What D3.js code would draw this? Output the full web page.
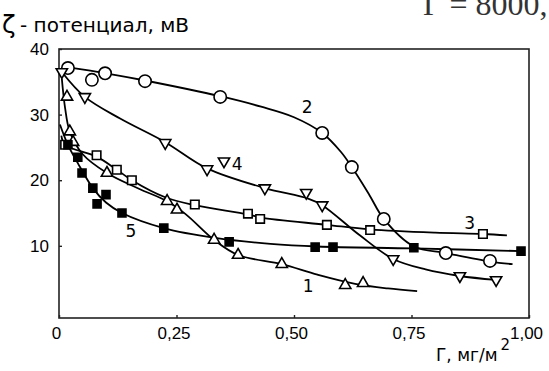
<!DOCTYPE html>
<html>
<head>
<meta charset="utf-8">
<script src="https://cdn.jsdelivr.net/npm/d3@7"></script>
<style>
	body { margin: 0; background: #fff; }
	svg { display: block; font-family: "DejaVu Sans", sans-serif; }
</style>
</head>
<body>
<div id="chart"></div>
<script>
// values: [Г, мг/м², ζ, мВ]
const series1Points = [[0.017, 32.7], [0.023, 27.4], [0.03, 25.8], [0.102, 21.1], [0.23, 16.8], [0.251, 15.5], [0.33, 10.9], [0.381, 8.6], [0.474, 7.2], [0.609, 4.0], [0.647, 4.3]]
const series1Curve = [[0.006, 35.5], [0.013, 31], [0.023, 27.4], [0.05, 24], [0.102, 21.1], [0.17, 18.7], [0.23, 16.8], [0.27, 14.8], [0.33, 10.9], [0.381, 8.6], [0.474, 7.2], [0.55, 5.6], [0.63, 4.2], [0.7, 3.5], [0.762, 3.1]]

const series2Points = [[0.019, 37.1], [0.07, 35.3], [0.098, 36.3], [0.183, 35.1], [0.343, 32.7], [0.56, 27.2], [0.623, 22.0], [0.691, 14.1], [0.823, 8.9], [0.917, 7.7]]
const series2Curve = [[0.02, 37.2], [0.1, 36.3], [0.183, 35.2], [0.343, 32.8], [0.43, 31.2], [0.5, 29.6], [0.56, 27.2], [0.6, 24.3], [0.623, 22.0], [0.66, 17.8], [0.691, 14.1], [0.755, 9.9], [0.823, 8.9], [0.917, 7.6], [0.965, 7.2]]

const series3Points = [[0.013, 25.4], [0.08, 23.8], [0.123, 21.6], [0.155, 20.0], [0.289, 16.3], [0.402, 14.9], [0.428, 14.1], [0.57, 13.2], [0.662, 12.4], [0.902, 11.8]]
const series3Curve = [[0.005, 26.8], [0.013, 25.4], [0.08, 23.6], [0.123, 21.6], [0.155, 20.0], [0.226, 17.4], [0.289, 16.2], [0.402, 14.8], [0.43, 14.3], [0.57, 13.2], [0.662, 12.5], [0.8, 12.0], [0.902, 11.8], [0.953, 11.6]]

const series4Points = [[0.006, 36.5], [0.055, 32.7], [0.226, 25.7], [0.315, 21.7], [0.351, 22.9], [0.438, 18.8], [0.526, 18.1], [0.56, 16.2], [0.711, 8.0], [0.853, 5.4], [0.93, 4.8]]
const series4Curve = [[0.006, 36.5], [0.055, 32.7], [0.13, 29.4], [0.226, 25.8], [0.315, 21.8], [0.438, 18.8], [0.53, 17.2], [0.56, 16.2], [0.64, 11.6], [0.711, 8.0], [0.78, 6.4], [0.853, 5.4], [0.93, 4.8]]

const series5Points = [[0.019, 25.4], [0.04, 23.5], [0.049, 21.1], [0.072, 18.8], [0.081, 16.4], [0.1, 17.8], [0.134, 15.0], [0.223, 12.7], [0.362, 10.6], [0.545, 9.8], [0.583, 9.8], [0.755, 9.7], [0.983, 9.2]]
const series5Curve = [[0.002, 28.5], [0.019, 25.4], [0.04, 22.6], [0.072, 18.8], [0.1, 16.6], [0.134, 15.0], [0.223, 12.7], [0.332, 11.2], [0.45, 10.3], [0.55, 9.9], [0.755, 9.6], [0.983, 9.2]]

const curveLabels = ['1', '2', '3', '4', '5']
const curveLabelAt = [[0.53, 3.9], [0.528, 31.2], [0.874, 13.5], [0.379, 22.5], [0.153, 12.3]]

const xTicks = [0, 0.25, 0.5, 0.75, 1]
const xTickLabels = ['0', '0,25', '0,50', '0,75', '1,00']
const yTicks = [10, 20, 30, 40]
const yTickLabels = ['10', '20', '30', '40']

const yTitle = '- потенциал, мВ'
const xTitle = 'Г, мг/м'
const cornerText = 'Г = 8000,'

let dimensions = {width: 549, height: 371, margin: {left: 59, top: 49, right: 20, bottom: 53}}
let plotW = dimensions.width - dimensions.margin.left - dimensions.margin.right
let plotH = dimensions.height - dimensions.margin.top - dimensions.margin.bottom

let xScale = d3.scaleLinear().domain([0, 1]).range([0, plotW])
let yScale = d3.scaleLinear().domain([-1, 40]).range([plotH, 0])

let svg = d3.select('#chart')
	.append('svg')
	.attr('width', dimensions.width)
	.attr('height', dimensions.height)

let g = svg.append('g')
	.attr('transform', `translate(${dimensions.margin.left},${dimensions.margin.top})`)

// frame
g.append('rect')
	.attr('width', plotW)
	.attr('height', plotH)
	.attr('fill', 'none')
	.attr('stroke', '#222')
	.attr('stroke-width', 1.6)

let xAxis = d3.axisBottom(xScale)
	.tickValues(xTicks)
	.tickFormat((d, i) => xTickLabels[i])
	.tickSizeInner(-3)
	.tickSizeOuter(0)
	.tickPadding(9)

let yAxis = d3.axisLeft(yScale)
	.tickValues(yTicks)
	.tickFormat((d, i) => yTickLabels[i])
	.tickSizeInner(-3)
	.tickSizeOuter(0)
	.tickPadding(10)

g.append('g')
	.attr('transform', `translate(0,${plotH})`)
	.call(xAxis)
	.call(a => a.select('.domain').remove())
	.call(a => a.selectAll('line').attr('stroke', '#222').attr('stroke-width', 1.4))
	.call(a => a.selectAll('text').attr('font-size', 17).attr('fill', '#000').attr('font-family', null).attr('dx', -3))

g.append('g')
	.call(yAxis)
	.call(a => a.select('.domain').remove())
	.call(a => a.selectAll('line').attr('stroke', '#222').attr('stroke-width', 1.4))
	.call(a => a.selectAll('text').attr('font-size', 17).attr('fill', '#000').attr('font-family', null))

let line = d3.line()
	.x(d => xScale(d[0]))
	.y(d => yScale(d[1]))
	.curve(d3.curveCatmullRom.alpha(0.5))

let curves = [series1Curve, series2Curve, series3Curve, series4Curve, series5Curve]

g.selectAll('path.curve')
	.data(curves)
	.enter()
		.append('path')
		.classed('curve', true)
		.attr('d', line)
		.attr('fill', 'none')
		.attr('stroke', '#000')
		.attr('stroke-width', 1.8)

function drawMarkers(points, type, size, filled, rotate) {
	let sym = d3.symbol().type(type).size(size)
	g.append('g')
		.selectAll('path')
		.data(points)
		.enter()
			.append('path')
			.attr('d', sym)
			.attr('transform', d => `translate(${xScale(d[0])},${yScale(d[1])}) rotate(${rotate})`)
			.attr('fill', filled ? '#000' : '#fff')
			.attr('stroke', '#000')
			.attr('stroke-width', 1.6)
}

drawMarkers(series1Points, d3.symbolTriangle, 55, false, 0)
drawMarkers(series2Points, d3.symbolCircle, 120, false, 0)
drawMarkers(series3Points, d3.symbolSquare, 72, false, 0)
drawMarkers(series4Points, d3.symbolTriangle, 55, false, 180)
drawMarkers(series5Points, d3.symbolSquare, 64, true, 0)

g.selectAll('text.curveLabel')
	.data(curveLabels)
	.enter()
		.append('text')
		.classed('curveLabel', true)
		.attr('x', (d, i) => xScale(curveLabelAt[i][0]))
		.attr('y', (d, i) => yScale(curveLabelAt[i][1]))
		.attr('text-anchor', 'middle')
		.attr('dominant-baseline', 'central')
		.attr('font-size', 17)
		.attr('fill', '#000')
		.text(d => d)

// titles
svg.append('text')
	.attr('x', 2)
	.attr('y', 33)
	.attr('font-size', 25)
	.attr('fill', '#000')
	.text('ζ')

svg.append('text')
	.attr('x', 20)
	.attr('y', 32)
	.attr('font-size', 20)
	.attr('fill', '#000')
	.text(yTitle)

let xt = svg.append('text')
	.attr('x', 436)
	.attr('y', 361)
	.attr('font-size', 17)
	.attr('fill', '#000')
	.text(xTitle)
xt.append('tspan')
	.attr('dy', -11)
	.attr('dx', 3)
	.attr('font-size', 15)
	.text('2')

// top-right remnant of the page text, clipped as in the scan
svg.append('text')
	.attr('x', 423)
	.attr('y', 15)
	.attr('font-size', 32)
	.attr('font-family', '"Liberation Serif", serif')
	.attr('fill', '#333')
	.text(cornerText)
</script>
</body>
</html>
